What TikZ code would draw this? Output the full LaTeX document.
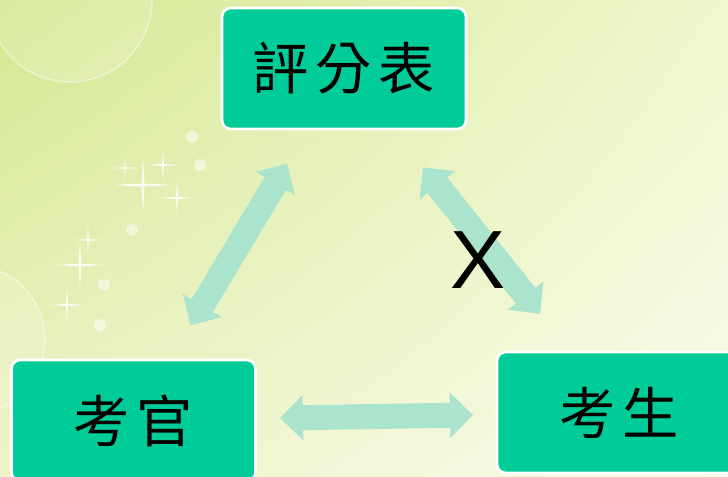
\documentclass[tikz,border=0pt]{standalone}
\usepackage{fontspec}
\setmainfont{Liberation Sans}
\newfontfamily\cjk[LetterSpace=12]{Noto Sans CJK TC}
\usetikzlibrary{arrows.meta,shadings}
\definecolor{boxgreen}{RGB}{0,204,153}
\definecolor{arrowmint}{RGB}{170,228,204}
\definecolor{bgA}{RGB}{212,231,145}
\definecolor{bgB}{RGB}{240,246,205}
\definecolor{bgC}{RGB}{236,243,200}
\definecolor{bgD}{RGB}{250,251,234}
\tikzset{
  card/.style={draw=white, line width=1.5pt, fill=boxgreen, rounded corners=5pt,
    minimum width=4.88cm, minimum height=2.42cm, font=\cjk\fontsize{32}{34}\selectfont},
  link/.style={arrowmint, line width=0.5cm,
    {Triangle[width=0.88cm,length=0.46cm]}-{Triangle[width=0.88cm,length=0.46cm]}},
  glint/.pic={\fill[white,opacity=0.85] (0.3,0) -- (0.015,0.015) -- (0,0.28) -- (-0.015,0.015)
    -- (-0.3,0) -- (-0.015,-0.015) -- (0,-0.28) -- (0.015,-0.015) -- cycle;}
}
\begin{document}
\begin{tikzpicture}
\useasboundingbox (0,0) rectangle (14.56,9.54);
\begin{scope}
\clip (0,0) rectangle (14.56,9.54);
\shade[upper left=bgA, upper right=bgB, lower left=bgC, lower right=bgD] (0,0) rectangle (14.56,9.54);
\draw[white, opacity=0.4, line width=1pt, fill=white, fill opacity=0.15] (1.4,9.54) circle (1.64);
\draw[white, opacity=0.4, line width=1pt, fill=white, fill opacity=0.15] (-0.6,2.74) circle (1.5);
\foreach \x/\y/\s in {2.86/5.84/2, 2.5/6.18/1, 3.26/6.24/1.2, 3.54/5.58/1.3,
  1.76/4.74/1.1, 1.6/4.24/1.7, 1.34/3.44/1.3}
  \pic[scale=\s] at (\x,\y) {glint};
\foreach \x/\y in {3.84/6.8, 4.0/6.24, 2.64/4.94, 2.08/3.84, 2.0/3.04}
  \fill[white, opacity=0.5] (\x,\y) circle (0.12);

\node[card] (sheet) at (6.88,8.17) {評分表};
\node[card] (examiner) at (2.67,1.13) {考官};
\node[card] (candidate) at (12.38,1.29) {考生};

\draw[link, shorten <=2.22cm, shorten >=2.22cm] (examiner.center) -- (sheet.center);
\draw[link, shorten <=2.53cm, shorten >=2.53cm] (sheet.center) -- (candidate.center);
\draw[link, shorten <=2.93cm, shorten >=2.92cm] (examiner.center) -- (candidate.center);

\node[font=\fontsize{47}{50}\selectfont] (cross) at (9.56,4.34) {X};
\end{scope}
\end{tikzpicture}
\end{document}
